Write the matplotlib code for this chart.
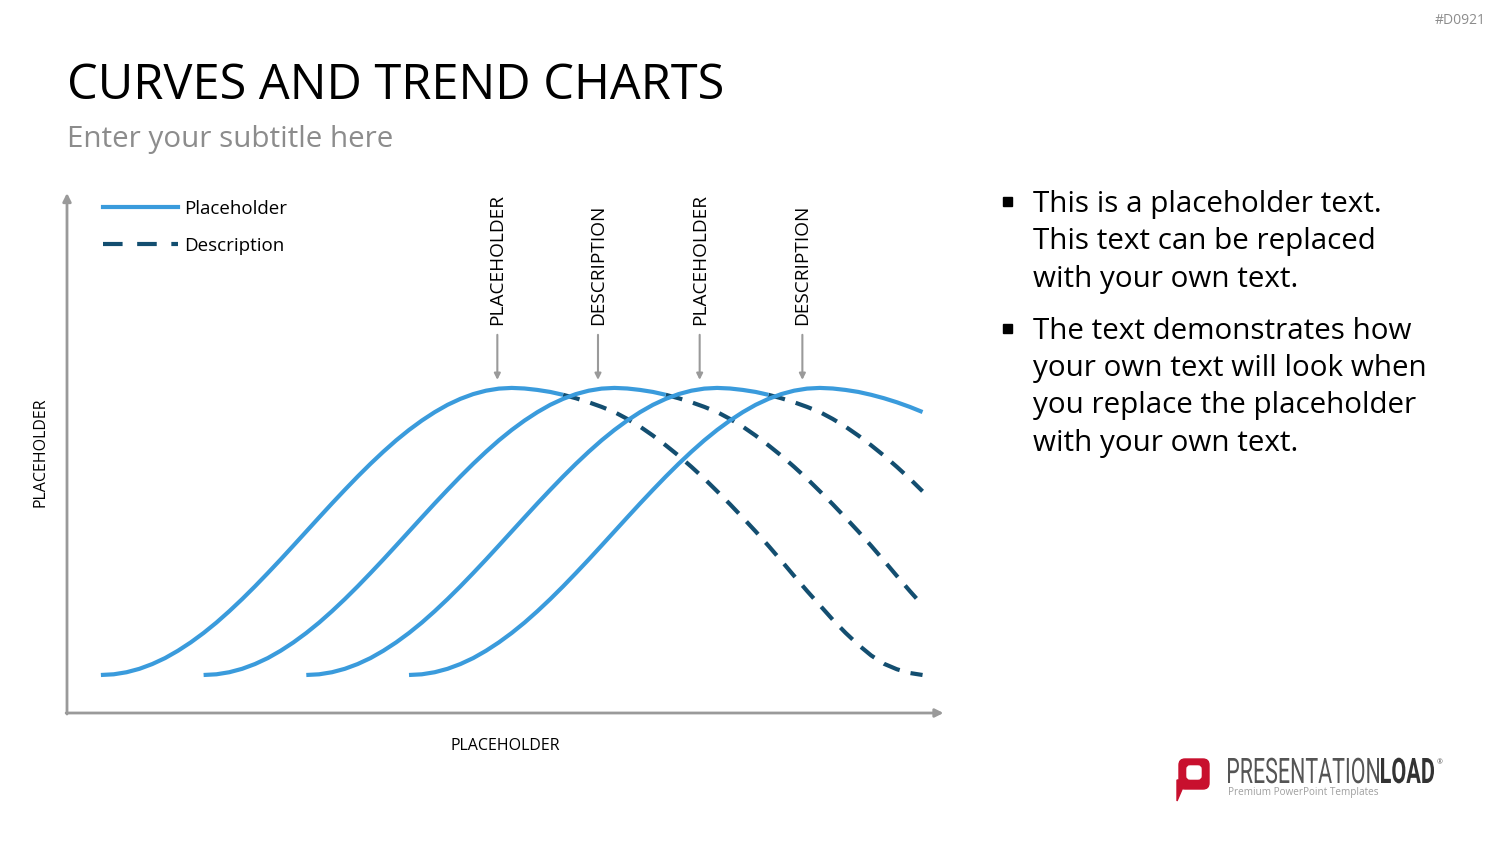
import numpy as np
import matplotlib.pyplot as plt
from matplotlib.lines import Line2D
from matplotlib.patches import PathPatch, FancyBboxPatch, Polygon, Rectangle
from matplotlib.textpath import TextPath
from matplotlib.font_manager import FontProperties
from matplotlib.transforms import Affine2D, IdentityTransform

plt.rcParams['font.family'] = ['Open Sans', 'DejaVu Sans']

# shared shape of every curve: offset from the curve start and height
profile_t = [0, 0.125, 0.25, 0.375, 0.5, 0.625, 0.75, 0.875, 1.0, 1.125, 1.25, 1.375, 1.5, 1.625,
             1.75, 1.875, 2.0, 2.125, 2.25, 2.375, 2.5, 2.625, 2.75, 2.875, 3.0, 3.125, 3.25, 3.375,
             3.5, 3.625, 3.75, 3.875, 4.0, 4.125, 4.25, 4.375, 4.5, 4.625, 4.75, 4.875, 5.0, 5.125,
             5.25, 5.375, 5.5, 5.625, 5.75, 5.875, 6.0, 6.125, 6.25, 6.375, 6.5, 6.625, 6.75, 6.875,
             7.0, 7.125, 7.25, 7.375, 7.5, 7.625, 7.75, 7.875, 8.0]
profile_y = [0, 0.24, 0.96, 2.15, 3.81, 5.89, 8.44, 11.36, 14.64, 18.26, 22.22, 26.43, 30.87, 35.5,
             40.24, 45.1, 50.0, 54.9, 59.76, 64.5, 69.13, 73.57, 77.78, 81.74, 85.36, 88.64, 91.56,
             94.11, 96.19, 97.85, 99.04, 99.76, 100.0, 99.8, 99.3, 98.6, 97.6, 96.4, 95.0, 93.4,
             91.6, 89.2, 86.5, 83.4, 80.0, 76.4, 72.5, 68.4, 64.0, 59.5, 54.8, 50.0, 45.0, 39.8,
             34.5, 29.3, 24.3, 19.3, 14.7, 10.5, 6.8, 3.9, 2.0, 0.7, 0]

curve_starts = [0.33, 1.33, 2.33, 3.33]
curve_ends = [8.0, 7.0, 6.0, 5.0]
solid_until = [4.5, 4.5, 4.5, 5.0]

marker_x = [4.19, 5.17, 6.16, 7.16]
marker_labels = ['PLACEHOLDER', 'DESCRIPTION', 'PLACEHOLDER', 'DESCRIPTION']
legend_labels = ['Placeholder', 'Description']

bullets = ['This is a placeholder text.\nThis text can be replaced\nwith your own text.',
           'The text demonstrates how\nyour own text will look when\nyou replace the placeholder\nwith your own text.']

solid_col = '#3A9BDC'
dash_col = '#134E70'
grey = '#9A9A9A'

W, H = 1500, 844
fig = plt.figure(figsize=(15, 8.44), dpi=100)
ax = fig.add_axes([67 / W, (H - 713) / H, (940 - 67) / W, (713 - 193) / H])
ax.set_xlim(0, 8.5)
ax.set_ylim(-13.24, 167.9)
ax.axis('off')

t = np.array(profile_t)
y = np.array(profile_y)
for s, e, cut in zip(curve_starts, curve_ends, solid_until):
    m1 = t <= cut
    m2 = (t >= cut) & (t <= e)
    ax.plot(s + t[m2], y[m2], color=dash_col, lw=3, dashes=(4.1, 2.7), solid_capstyle='butt')
    ax.plot(s + t[m1], y[m1], color=solid_col, lw=3, solid_capstyle='butt')

# axes arrows
arr = dict(arrowstyle='-|>', color=grey, lw=2, mutation_scale=12, shrinkA=0, shrinkB=0)
ax.annotate('', xy=(1.004, 0), xytext=(-0.001, 0), xycoords='axes fraction', arrowprops=arr)
ax.annotate('', xy=(0, 1.0), xytext=(0, -0.002), xycoords='axes fraction', arrowprops=arr)

# markers over the peaks
for mx, lab in zip(marker_x, marker_labels):
    ax.annotate('', xy=(mx, 102.8), xytext=(mx, 118.5),
                arrowprops=dict(arrowstyle='-|>', color=grey, lw=1.5, mutation_scale=9,
                                shrinkA=0, shrinkB=0))
    ax.text(mx, 122, lab, rotation=90, ha='center', va='bottom', fontsize=13.7, color='black')

handles = [Line2D([], [], color=solid_col, lw=3),
           Line2D([], [], color=dash_col, lw=3, dashes=(4.7, 3.5))]
ax.legend(handles, legend_labels, loc='upper left', bbox_to_anchor=(103 / W, 1 - 200 / H),
          bbox_transform=fig.transFigure, frameon=False, fontsize=13.5, handlelength=4.0,
          handletextpad=0.3, labelspacing=1.0, borderpad=0, borderaxespad=0)

fig.text(505 / W, 1 - 746 / H, 'PLACEHOLDER', ha='center', va='center', fontsize=11.5)
fig.text(41 / W, 1 - 452 / H, 'PLACEHOLDER', ha='center', va='center', rotation=90, fontsize=11.5)

# titles
fig.text(67 / W, 1 - 86 / H, 'CURVES AND TREND CHARTS', ha='left', va='center', fontsize=35.1)
fig.text(67 / W, 1 - 139 / H, 'Enter your subtitle here', ha='left', va='center',
         fontsize=21.3, color='#8C8C8C')
fig.text(1486 / W, 1 - 20 / H, '#D0921', ha='right', va='center', fontsize=10, color='#8C8C8C')

# bullet text
for top, txt in zip([190, 317], bullets):
    fig.text(1033 / W, 1 - top / H, txt, ha='left', va='top', fontsize=21.3, linespacing=1.375)
    fig.patches.append(Rectangle((1003, H - top - 16), 9, 9, color='black',
                                 transform=IdentityTransform(), figure=fig))

# logo
tr = IdentityTransform()
fig.patches.append(FancyBboxPatch((1179, H - 789), 30, 30, boxstyle='round,pad=0,rounding_size=6',
                                  color='#C8102E', transform=tr, figure=fig))
fig.patches.append(Polygon([(1177, H - 780), (1186, H - 780), (1177, H - 801)], closed=True,
                           color='#C8102E', transform=tr, figure=fig))
fig.patches.append(FancyBboxPatch((1187, H - 779), 14, 13, boxstyle='round,pad=0,rounding_size=3',
                                  color='white', transform=tr, figure=fig))


def squeezed(txt, x0, base, width, cap, weight, colour):
    tp = TextPath((0, 0), txt, size=100, prop=FontProperties(family='Roboto', weight=weight))
    ext = tp.get_extents()
    sx = width / ext.width
    sy = cap / 71.1
    trans = Affine2D().translate(-ext.x0, 0).scale(sx, sy).translate(x0, H - base)
    fig.patches.append(PathPatch(trans.transform_path(tp), color=colour, lw=0,
                                 transform=tr, figure=fig))


squeezed('PRESENTATION', 1228, 783, 151, 25, 'normal', '#555555')
squeezed('LOAD', 1381, 783, 53, 25, 'bold', '#333333')
fig.text(1437 / W, 1 - 763 / H, '®', fontsize=5, color='#555555', ha='left', va='center')
fig.text(1228 / W, 1 - 792 / H, 'Premium PowerPoint Templates', fontsize=7.2, color='#A0A0A0',
         ha='left', va='center')

fig.savefig('out.png', dpi=100)
